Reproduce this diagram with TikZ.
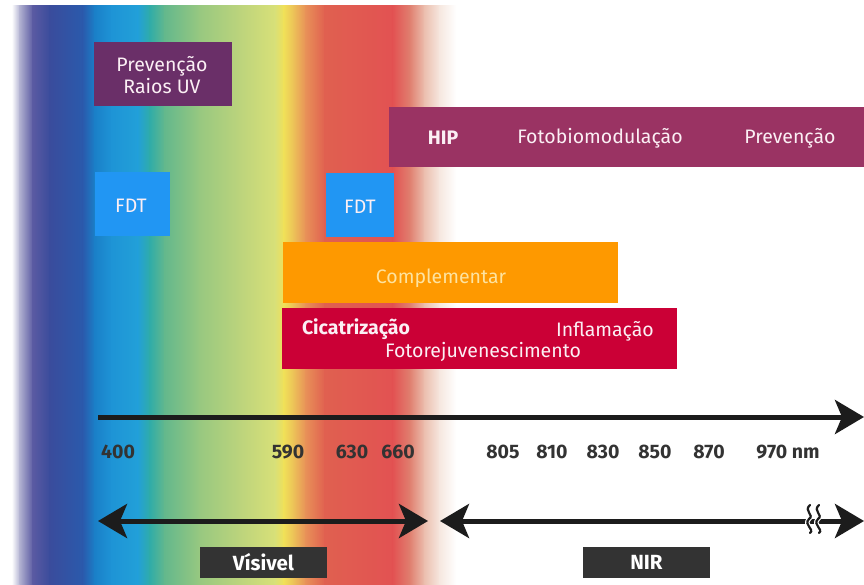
\documentclass[tikz,border=0pt]{standalone}
\usepackage{fontspec}
\setmainfont{Fira Sans}
\usetikzlibrary{arrows.meta}
\definecolor{uvpurple}{HTML}{6A2F68}
\definecolor{hipmag}{HTML}{9A3363}
\definecolor{fdtblue}{HTML}{2196F3}
\definecolor{comporange}{HTML}{FE9900}
\definecolor{cicred}{HTML}{CB0036}
\definecolor{axisdark}{HTML}{1C1C1C}
\definecolor{numgray}{HTML}{333333}
\definecolor{labelbox}{HTML}{333333}
\definecolor{softtext}{HTML}{FBEFF4}
\definecolor{compyellow}{HTML}{FDE3A0}
\tikzset{
  band/.style={fill=#1, draw=none},
  boxtext/.style={text=softtext, font=\fontsize{19.5}{22}\selectfont, inner sep=0pt, anchor=center},
  numlabel/.style={text=numgray, font=\fontsize{19.5}{22}\selectfont\bfseries, inner sep=0pt, anchor=center},
  rangebox/.style={fill=labelbox, text=white, font=\fontsize{20.5}{22}\selectfont\bfseries, inner sep=0pt, minimum width=127pt, minimum height=31pt},
  tip/.tip={Stealth[length=29pt,width=34pt,inset=7pt]},
  bigarrow/.style={draw=axisdark, line width=5pt, -tip},
  botharrow/.style={draw=axisdark, line width=5pt, tip-tip},
}
\begin{document}
\begin{tikzpicture}[x=1pt,y=-1pt]
\useasboundingbox (0,0) rectangle (864,585);
\fill[white] (0,0) rectangle (864,585);

% visible spectrum, drawn as consecutive horizontal shadings
\def\specTop{6}
\def\specBot{585}
\foreach \xa/\ca/\xb/\cb in {
  12/{white}/20/{rgb,255:red,176;green,176;blue,208},
  20/{rgb,255:red,176;green,176;blue,208}/33/{rgb,255:red,90;green,90;blue,162},
  33/{rgb,255:red,90;green,90;blue,162}/50/{rgb,255:red,58;green,76;blue,156},
  50/{rgb,255:red,58;green,76;blue,156}/83/{rgb,255:red,42;green,90;blue,172},
  83/{rgb,255:red,42;green,90;blue,172}/95/{rgb,255:red,26;green,128;blue,200},
  95/{rgb,255:red,26;green,128;blue,200}/112/{rgb,255:red,30;green,148;blue,214},
  112/{rgb,255:red,30;green,148;blue,214}/138/{rgb,255:red,34;green,160;blue,216},
  138/{rgb,255:red,34;green,160;blue,216}/150/{rgb,255:red,48;green,172;blue,168},
  150/{rgb,255:red,48;green,172;blue,168}/165/{rgb,255:red,100;green,184;blue,140},
  165/{rgb,255:red,100;green,184;blue,140}/200/{rgb,255:red,152;green,200;blue,128},
  200/{rgb,255:red,152;green,200;blue,128}/240/{rgb,255:red,188;green,212;blue,124},
  240/{rgb,255:red,188;green,212;blue,124}/275/{rgb,255:red,216;green,224;blue,120},
  275/{rgb,255:red,216;green,224;blue,120}/284/{rgb,255:red,240;green,224;blue,88},
  284/{rgb,255:red,240;green,224;blue,88}/294/{rgb,255:red,236;green,192;blue,88},
  294/{rgb,255:red,236;green,192;blue,88}/306/{rgb,255:red,232;green,144;blue,88},
  306/{rgb,255:red,232;green,144;blue,88}/325/{rgb,255:red,224;green,96;blue,80},
  325/{rgb,255:red,224;green,96;blue,80}/393/{rgb,255:red,226;green,82;blue,82},
  393/{rgb,255:red,226;green,82;blue,82}/410/{rgb,255:red,224;green,128;blue,112},
  410/{rgb,255:red,224;green,128;blue,112}/425/{rgb,255:red,236;green,192;blue,176},
  425/{rgb,255:red,236;green,192;blue,176}/440/{rgb,255:red,246;green,232;blue,224},
  440/{rgb,255:red,246;green,232;blue,224}/456/{white}}
{
  \shade[left color=\ca, right color=\cb, shading angle=90] (\xa-0.3,\specTop) rectangle (\xb+0.3,\specBot);
}

% application boxes
\fill[band=uvpurple] (94,42) rectangle (232,106);
\node[boxtext, align=center, font=\fontsize{19.5}{22}\selectfont] (uv) at (162,75) {Prevenção\\Raios UV};

\fill[band=fdtblue] (95,172) rectangle (170,236);
\node[boxtext] (fdta) at (131,206) {FDT};
\fill[band=fdtblue] (326,173) rectangle (394,237);
\node[boxtext] (fdtb) at (360,207) {FDT};

\fill[band=hipmag] (389,107) rectangle (864,167);
\node[boxtext, font=\fontsize{19.5}{22}\selectfont\bfseries] (hip) at (443,138) {HIP};
\node[boxtext] (fbm) at (600,138) {Fotobiomodulação};
\node[boxtext] (prev) at (790,138) {Prevenção};

\fill[band=comporange] (283,242) rectangle (618,303);
\node[boxtext, text=compyellow] (comp) at (441,278) {Complementar};

\fill[band=cicred] (282,308) rectangle (677,369);
\node[boxtext, font=\fontsize{19.5}{22}\selectfont\bfseries] (cic) at (356,329) {Cicatrização};
\node[boxtext] (inf) at (605,331) {Inflamação};
\node[boxtext] (foto) at (483,352) {Fotorejuvenescimento};

% wavelength axis
\coordinate (axL) at (98,417);
\coordinate (axR) at (864,417);
\draw[bigarrow] (axL) -- (axR);

\node[numlabel] (n400) at (118,452) {400};
\node[numlabel] (n590) at (288,452) {590};
\node[numlabel] (n630) at (352,452) {630};
\node[numlabel] (n660) at (398,452) {660};
\node[numlabel] (n805) at (503,452) {805};
\node[numlabel] (n810) at (552,452) {810};
\node[numlabel] (n830) at (603,452) {830};
\node[numlabel] (n850) at (655,452) {850};
\node[numlabel] (n870) at (709,452) {870};
\node[numlabel] (n970) at (788,452) {970 nm};

% range arrows
\coordinate (visL) at (98,521);
\coordinate (visR) at (428,521);
\draw[botharrow] (visL) -- (visR);
\coordinate (nirL) at (440,521);
\coordinate (nirR) at (864,521);
\draw[botharrow] (nirL) -- (nirR);

% break mark on the NIR range
\foreach \bx in {809,818}{
  \draw[white, line width=4.5pt]
    (\bx+1,505) .. controls (\bx-6,511) and (\bx+6,515) .. (\bx,519)
                .. controls (\bx-6,525) and (\bx+6,529) .. (\bx+1,533);
  \draw[axisdark, line width=2.2pt, line cap=round]
    (\bx+1,505) .. controls (\bx-6,511) and (\bx+6,515) .. (\bx,519)
                .. controls (\bx-6,525) and (\bx+6,529) .. (\bx+1,533);
}

\node[rangebox] (vis) at (263.5,562) {Vísivel};
\node[rangebox] (nir) at (646.5,562) {NIR};
\end{tikzpicture}
\end{document}
